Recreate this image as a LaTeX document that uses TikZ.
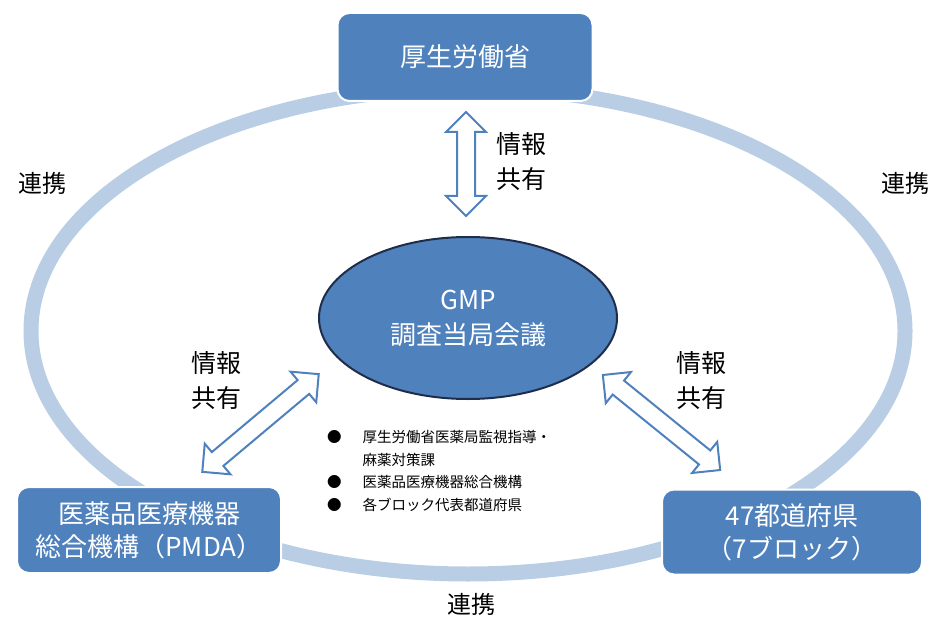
\documentclass[tikz,border=0pt]{standalone}
\usepackage{fontspec}
\setmainfont{Noto Sans CJK JP}
\usetikzlibrary{shapes.geometric,shapes.arrows}
\definecolor{boxblue}{HTML}{4F81BD}
\definecolor{ringblue}{HTML}{B9CDE5}
\definecolor{navy}{HTML}{1F2D4A}
\tikzset{
  orgbox/.style={rectangle, rounded corners=12pt, fill=boxblue, draw=white, line width=2pt,
    text=white, font=\fontsize{26}{33}\selectfont, align=center, inner sep=0pt},
  info/.style={font=\fontsize{25}{35}\selectfont, align=left, text=black},
  dbl/.style={double arrow, draw=boxblue, fill=white, line width=2pt,
    inner sep=8pt, double arrow head extend=11pt, double arrow tip angle=90},
  renkei/.style={font=\fontsize{24}{28}\selectfont, text=black}
}
\begin{document}
\begin{tikzpicture}[x=1pt,y=-1pt]
\useasboundingbox (0,0) rectangle (933,617);
% ring
\draw[ringblue, line width=15pt] (468,331) ellipse [x radius=437, y radius=243];
% boxes
\node[orgbox, minimum width=255pt, minimum height=88pt] (mhlw) at (465,57) {厚生労働省};
\node[orgbox, minimum width=264pt, minimum height=86pt] (pmda) at (149,530) {医薬品医療機器\\総合機構（PMDA）};
\node[orgbox, minimum width=260pt, minimum height=85pt] (pref) at (792,532) {47都道府県\\（7ブロック）};
% central ellipse
\node[ellipse, fill=boxblue, draw=navy, line width=2pt, minimum width=298pt, minimum height=162pt,
  text=white, font=\fontsize{26}{35}\selectfont, align=center] (gmp) at (468,318) {GMP\\調査当局会議};
% arrows
\node[dbl, minimum height=104pt, rotate=90] (a1) at (466,164) {};
\node[dbl, minimum height=152pt, rotate=40] (a2) at (260.5,423) {};
\node[dbl, minimum height=151pt, rotate=-39] (a3) at (661.5,422.5) {};
% labels
\node[info] (t1) at (521,162) {情報\\共有};
\node[info] (t2) at (216,381) {情報\\共有};
\node[info] (t3) at (701,381) {情報\\共有};
\node[renkei] (r1) at (42,183) {連携};
\node[renkei] (r2) at (905,183) {連携};
\node[renkei] (r3) at (471,604) {連携};
% bullet list
\node[anchor=north west, inner sep=0pt, font=\fontsize{14.5}{22.5}\selectfont, align=left] (list) at (327,427)
 {\begin{tabular}{@{}l@{\hspace{21pt}}l@{}}
 ● & 厚生労働省医薬局監視指導・\\
   & 麻薬対策課\\
 ● & 医薬品医療機器総合機構\\
 ● & 各ブロック代表都道府県
 \end{tabular}};
\end{tikzpicture}
\end{document}
